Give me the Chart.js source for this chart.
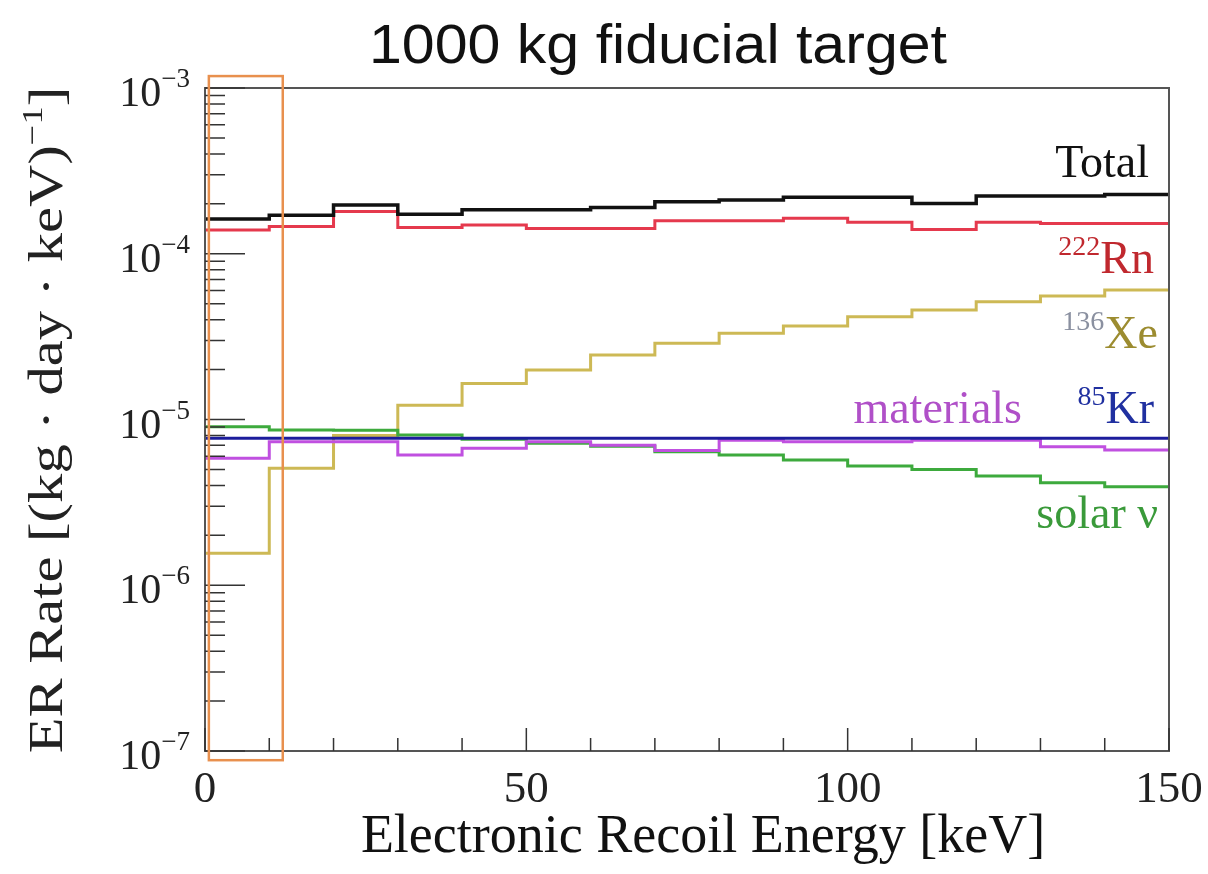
<!DOCTYPE html>
<html lang="en">
<head>
<meta charset="UTF-8">
<title>1000 kg fiducial target</title>
<script src="https://cdn.jsdelivr.net/npm/chart.js"></script>
<style>
  html, body { margin: 0; padding: 0; background: #fff; }
  #wrap { width: 1208px; height: 874px; }
</style>
</head>
<body>
<div id="wrap"><canvas id="erChart" width="1208" height="874"></canvas></div>
<script>
// bin edges in keV (10 keV bins)
const binEdges = [0, 10, 20, 30, 40, 50, 60, 70, 80, 90, 100, 110, 120, 130, 140, 150];

// rates per bin, (kg day keV)^-1
const totalRate = [1.62e-4, 1.71e-4, 1.97e-4, 1.73e-4, 1.84e-4, 1.84e-4, 1.90e-4, 2.06e-4, 2.11e-4, 2.19e-4, 2.19e-4, 2.01e-4, 2.23e-4, 2.23e-4, 2.28e-4];
const rnRate    = [1.39e-4, 1.46e-4, 1.80e-4, 1.44e-4, 1.49e-4, 1.42e-4, 1.42e-4, 1.58e-4, 1.58e-4, 1.64e-4, 1.55e-4, 1.40e-4, 1.55e-4, 1.52e-4, 1.52e-4];
const xeRate    = [1.56e-6, 5.08e-6, 8.0e-6, 1.22e-5, 1.65e-5, 1.99e-5, 2.45e-5, 2.88e-5, 3.31e-5, 3.66e-5, 4.17e-5, 4.58e-5, 5.14e-5, 5.56e-5, 6.04e-5];
const krRate    = [7.7e-6, 7.7e-6, 7.7e-6, 7.7e-6, 7.7e-6, 7.7e-6, 7.7e-6, 7.7e-6, 7.7e-6, 7.7e-6, 7.7e-6, 7.7e-6, 7.7e-6, 7.7e-6, 7.7e-6];
const matRate   = [5.83e-6, 7.35e-6, 7.35e-6, 6.1e-6, 6.7e-6, 7.35e-6, 7.0e-6, 6.5e-6, 7.5e-6, 7.35e-6, 7.35e-6, 7.5e-6, 7.5e-6, 6.85e-6, 6.55e-6];
const solarRate = [9.05e-6, 8.65e-6, 8.6e-6, 8.06e-6, 7.6e-6, 7.2e-6, 6.9e-6, 6.4e-6, 6.1e-6, 5.7e-6, 5.25e-6, 5.0e-6, 4.56e-6, 4.16e-6, 3.93e-6];

// y axis decades, x tick labels
const yDecades = [-7, -6, -5, -4, -3];
const xTickValues = [0, 50, 100, 150];

// highlighted low-energy window (keV), drawn as the orange box
const windowKeV = [0.6, 12.1];

const SERIF = '"Liberation Serif", "DejaVu Serif", serif';
const SANS = '"Liberation Sans", Arial, sans-serif';

// step histogram -> points at bin left edges + closing point
function histPoints(vals) {
    const pts = vals.map((v, i) => ({ x: binEdges[i], y: v }));
    pts.push({ x: binEdges[binEdges.length - 1], y: vals[vals.length - 1] });
    return pts;
}

function histSet(label, vals, color, width) {
    return {
        label: label,
        data: histPoints(vals),
        borderColor: color,
        borderWidth: width,
        stepped: 'before',
        pointRadius: 0,
        fill: false
    };
}

// text with a superscript, right aligned at xr
function supText(ctx, pre, sup, post, xr, y, mainFont, supFont, rise, c1, c2) {
    ctx.font = mainFont;
    const wPre = ctx.measureText(pre).width;
    const wPost = ctx.measureText(post).width;
    ctx.font = supFont;
    const wSup = ctx.measureText(sup).width;
    let x = xr - (wPre + wSup + wPost);
    ctx.textAlign = 'left';
    ctx.font = mainFont; ctx.fillStyle = c1;
    ctx.fillText(pre, x, y); x += wPre;
    ctx.font = supFont; ctx.fillStyle = c2 || c1;
    ctx.fillText(sup, x, y - rise); x += wSup;
    ctx.font = mainFont; ctx.fillStyle = c1;
    ctx.fillText(post, x, y);
    return wPre + wSup + wPost;
}

const rootStyle = {
    id: 'rootStyle',
    afterDatasetsDraw(chart) {
        const ctx = chart.ctx;
        const a = chart.chartArea;
        const xs = chart.scales.x, ys = chart.scales.y;
        ctx.save();

        // frame
        ctx.strokeStyle = '#555';
        ctx.lineWidth = 2;
        ctx.strokeRect(a.left, a.top, a.right - a.left, a.bottom - a.top);

        // y ticks (inside)
        ctx.strokeStyle = '#333';
        ctx.lineWidth = 1.5;
        ctx.beginPath();
        yDecades.forEach((e, i) => {
            const yp = ys.getPixelForValue(Math.pow(10, e));
            ctx.moveTo(a.left, yp); ctx.lineTo(a.left + 40, yp);
            if (i < yDecades.length - 1) {
                for (let k = 2; k <= 9; k++) {
                    const ym = ys.getPixelForValue(k * Math.pow(10, e));
                    ctx.moveTo(a.left, ym); ctx.lineTo(a.left + 20, ym);
                }
            }
        });
        // x ticks (inside)
        for (let v = 0; v <= 150; v += 10) {
            const xp = xs.getPixelForValue(v);
            const len = v % 50 === 0 ? 23 : 13;
            ctx.moveTo(xp, a.bottom); ctx.lineTo(xp, a.bottom - len);
        }
        ctx.stroke();

        // orange window
        ctx.strokeStyle = '#e8904e';
        ctx.lineWidth = 2.5;
        const bx0 = xs.getPixelForValue(windowKeV[0]);
        const bx1 = xs.getPixelForValue(windowKeV[1]);
        const by0 = ys.getPixelForValue(1.18e-3);
        const by1 = ys.getPixelForValue(0.88e-7);
        ctx.strokeRect(bx0, by0, bx1 - bx0, by1 - by0);

        // y tick labels 10^n
        ctx.textBaseline = 'alphabetic';
        yDecades.forEach(e => {
            const yp = ys.getPixelForValue(Math.pow(10, e));
            supText(ctx, '10', '\u2212' + Math.abs(e), '', 190, yp + 18,
                '42px ' + SERIF, '27px ' + SERIF, 19, '#222');
        });

        // series labels
        ctx.textAlign = 'right';
        ctx.font = '46px ' + SERIF;
        ctx.fillStyle = '#111';
        ctx.fillText('Total', 1149, 177);
        ctx.fillStyle = '#3a9a3a';
        ctx.fillText('solar \u03bd', 1158, 528);
        ctx.fillStyle = '#b050c8';
        ctx.fillText('materials', 1022, 423);
        supText(ctx, '', '222', 'Rn', 1154, 273, '46px ' + SERIF, '28px ' + SERIF, 18, '#c0282e');
        supText(ctx, '', '136', 'Xe', 1158, 348, '46px ' + SERIF, '28px ' + SERIF, 18, '#9c8c30', '#8a90a0');
        supText(ctx, '', '85', 'Kr', 1154, 423, '46px ' + SERIF, '28px ' + SERIF, 18, '#2030a0');

        // title, a bit wider than the plain font
        ctx.save();
        ctx.translate(658, 63);
        ctx.scale(1.055, 1);
        ctx.textAlign = 'center';
        ctx.fillStyle = '#111';
        ctx.font = '56px ' + SANS;
        ctx.fillText('1000 kg fiducial target', 0, 0);
        ctx.restore();

        // x title
        ctx.textAlign = 'center';
        ctx.fillStyle = '#111';
        ctx.font = '54px ' + SERIF;
        ctx.fillText('Electronic Recoil Energy [keV]', 703, 852);

        // y title (rotated, stretched along the text)
        ctx.translate(62, 420);
        ctx.rotate(-Math.PI / 2);
        ctx.scale(1.22, 1);
        const mainF = '48px ' + SERIF, supF = '30px ' + SERIF;
        ctx.font = mainF;
        const w1 = ctx.measureText('ER Rate [(kg \u00b7 day \u00b7 keV)').width;
        const w3 = ctx.measureText(']').width;
        ctx.font = supF;
        const w2 = ctx.measureText('\u2212' + '1').width;
        supText(ctx, 'ER Rate [(kg \u00b7 day \u00b7 keV)', '\u22121', ']', (w1 + w2 + w3) / 2, 0,
            mainF, supF, 20, '#222');
        ctx.restore();
    }
};

const ctx = document.getElementById('erChart').getContext('2d');
new Chart(ctx, {
    type: 'line',
    data: {
        datasets: [
            histSet('Total', totalRate, '#111111', 3.5),
            histSet('222Rn', rnRate, '#e5394d', 3),
            histSet('85Kr', krRate, '#1c1c9c', 3),
            histSet('materials', matRate, '#c050e0', 3),
            histSet('solar nu', solarRate, '#3daa3d', 3),
            histSet('136Xe', xeRate, '#cdb955', 3)
        ]
    },
    options: {
        responsive: false,
        animation: false,
        layout: { padding: { top: 88, right: 39, left: 0, bottom: 0 } },
        plugins: { legend: { display: false }, tooltip: { enabled: false }, title: { display: false } },
        scales: {
            x: {
                type: 'linear',
                min: 0,
                max: 150,
                afterFit: s => { s.height = 123; },
                afterBuildTicks: s => { s.ticks = xTickValues.map(v => ({ value: v })); },
                grid: { display: false },
                border: { display: false },
                ticks: {
                    font: { family: SERIF, size: 45 },
                    color: '#222',
                    padding: 4,
                    maxRotation: 0
                }
            },
            y: {
                type: 'logarithmic',
                min: 1e-7,
                max: 1e-3,
                afterFit: s => { s.width = 205; },
                grid: { display: false },
                border: { display: false },
                ticks: { display: false }
            }
        }
    },
    plugins: [rootStyle]
});
</script>
</body>
</html>
